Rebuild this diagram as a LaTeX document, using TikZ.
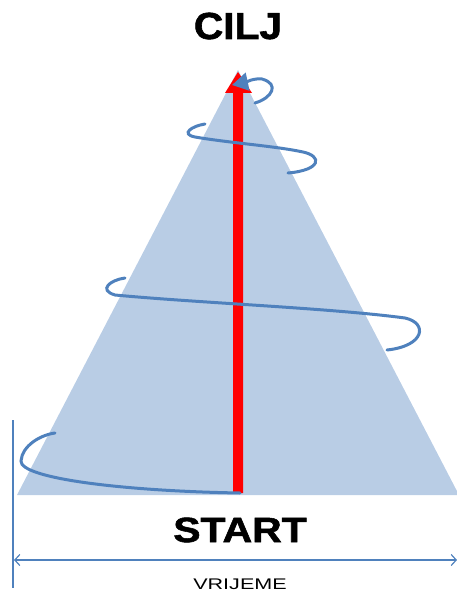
\documentclass[tikz,border=0pt]{standalone}
\usepackage{fontspec}
\setmainfont{Liberation Sans}
\newfontfamily\heavyfont[FakeBold=1.5]{Liberation Sans Bold}
\usetikzlibrary{arrows.meta}
\definecolor{pyrfill}{HTML}{B9CDE5}
\definecolor{spiral}{HTML}{4F81BD}
\definecolor{goalred}{HTML}{FF0000}
\tikzset{
  spiralline/.style={draw=spiral, line width=3pt, line cap=round},
  axisline/.style={draw=spiral, line width=1.2pt},
  bigtitle/.style={inner sep=0pt, anchor=base},
}
\begin{document}
\begin{tikzpicture}[x=1pt,y=-1pt]
\useasboundingbox (0,0) rectangle (457,596);
% pyramid
\fill[pyrfill] (17,495) -- (238,70) -- (459,495) -- cycle;
% red arrow
\fill[goalred] (233,493) -- (233,93) -- (225,93) -- (238,72) -- (252,93) -- (243,93) -- (243,493) -- cycle;
% spiral
\draw[spiralline] (240,493) .. controls (120,491) and (20,478) .. (21,461) .. controls (22,446) and (40,435) .. (55,433);
\draw[spiralline] (125,278) .. controls (110,280) and (98,290) .. (115,295) .. controls (200,303) and (330,308) .. (405,318) .. controls (428,323) and (425,346) .. (387,350);
\draw[spiralline] (205,124) .. controls (192,126) and (180,134) .. (195,137) .. controls (230,143) and (275,146) .. (303,152) .. controls (322,156) and (322,170) .. (288,173);
\draw[spiralline, -{Triangle[length=16pt,width=18pt]}] (255,103) .. controls (272,98) and (280,84) .. (262,79) .. controls (254,78) and (246,82) .. (232,85);
% time axis
\coordinate (vtop) at (13,420);
\coordinate (vbot) at (13,588);
\coordinate (aleft) at (14,560);
\coordinate (aright) at (457,560);
\draw[axisline] (vtop) -- (vbot);
\draw[axisline, {Straight Barb[length=5pt,width=11pt]}-{Straight Barb[length=5pt,width=11pt]}] (aleft) -- (aright);
% texts
\node[bigtitle] (cilj) at (238,39) {\scalebox{1.08}[1]{\heavyfont\fontsize{37.7}{40}\selectfont CILJ}};
\node[bigtitle] (start) at (240,542) {\scalebox{1.17}[1]{\heavyfont\fontsize{35}{38}\selectfont START}};
\node[inner sep=0pt, anchor=base] (vrijeme) at (240,589) {\scalebox{1.4}[1]{\fontsize{15.4}{17}\selectfont VRIJEME}};
\end{tikzpicture}
\end{document}
